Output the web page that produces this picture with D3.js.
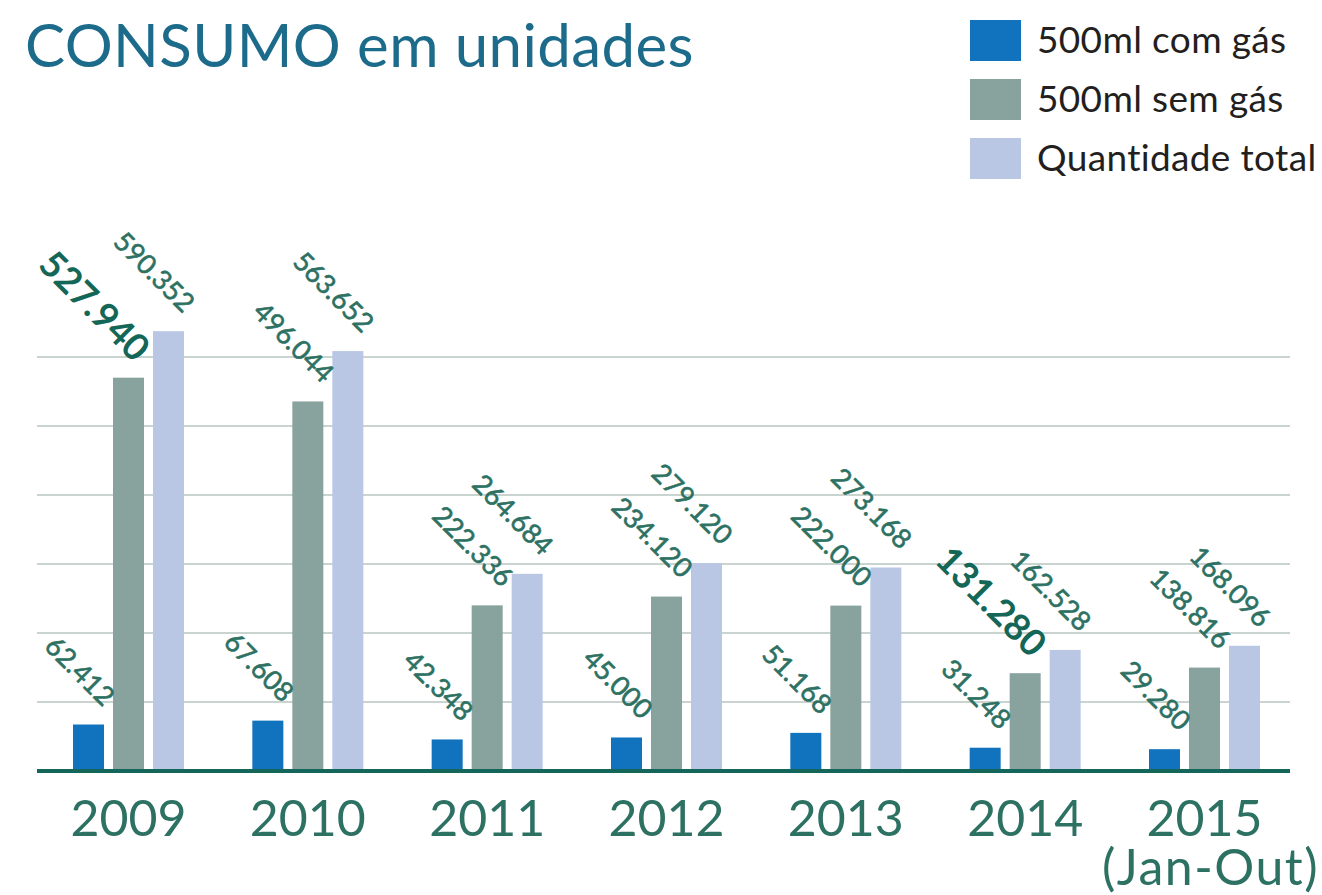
<!DOCTYPE html>
<html>
<head>
<meta charset="utf-8">
<script src="https://cdn.jsdelivr.net/npm/d3@7"></script>
<style>
  body { margin: 0; background: #fff; }
  svg { display: block; font-family: Lato, "Open Sans", sans-serif; }
</style>
</head>
<body>
<div id="chart"></div>
<script>
var years = ['2009', '2010', '2011', '2012', '2013', '2014', '2015'];
var yearNotes = ['', '', '', '', '', '', '(Jan-Out)'];
var seriesNames = ['500ml com gás', '500ml sem gás', 'Quantidade total'];
var comGas = [62412, 67608, 42348, 45000, 51168, 31248, 29280];
var semGas = [527940, 496044, 222336, 234120, 222000, 131280, 138816];
var total = [590352, 563652, 264684, 279120, 273168, 162528, 168096];
// labels shown bigger and bold (series index, year)
var highlighted = [[1, '2009'], [1, '2014']];
var gridStep = 92600;

var width = 1322, height = 895;
var colors = ['#1173bd', '#88a29d', '#b9c7e4'];
var baseY = 771;

var fmt = d3.formatLocale({ decimal: ',', thousands: '.', grouping: [3], currency: ['', ''] }).format(',d');

var rows = [];
years.forEach(function(y, i) {
    [comGas, semGas, total].forEach(function(arr, s) {
        rows.push({ year: y, s: s, value: arr[i] });
    });
});

var svg = d3.select('#chart').append('svg')
    .attr('width', width)
    .attr('height', height);

var x0 = d3.scaleBand()
    .domain(years)
    .range([40, 1293])
    .paddingInner(0.381)
    .paddingOuter(0.184);

var x1 = d3.scaleBand()
    .domain([0, 1, 2])
    .range([0, x0.bandwidth()])
    .paddingInner(0.225);

var yScale = d3.scaleLinear()
    .domain([0, 600000])
    .range([baseY, 324]);

// gridlines
var grid = d3.range(1, 7).map(function(i) { return i * gridStep; });
svg.append('g').selectAll('line').data(grid)
    .enter().append('line')
    .attr('x1', 37).attr('x2', 1290)
    .attr('y1', function(d) { return yScale(d); })
    .attr('y2', function(d) { return yScale(d); })
    .style('stroke', '#c9d4d1')
    .style('stroke-width', 2);

// bars
svg.append('g').selectAll('rect').data(rows)
    .enter().append('rect')
    .attr('x', function(d) { return x0(d.year) + x1(d.s); })
    .attr('width', x1.bandwidth())
    .attr('y', function(d) { return yScale(d.value); })
    .attr('height', function(d) { return baseY - yScale(d.value); })
    .style('fill', function(d) { return colors[d.s]; });

function isHigh(d) {
    return highlighted.some(function(h) { return h[0] === d.s && h[1] === d.year; });
}

// value labels
svg.append('g').selectAll('text').data(rows)
    .enter().append('text')
    .attr('transform', function(d) {
        var x = x0(d.year) + x1(d.s) + x1.bandwidth() - (isHigh(d) ? 10 : 1);
        var y = yScale(d.value) - (isHigh(d) ? 14 : 17);
        return 'translate(' + x + ',' + y + ') rotate(45)';
    })
    .attr('text-anchor', 'end')
    .style('font-size', function(d) { return isHigh(d) ? '37px' : '27px'; })
    .style('font-weight', function(d) { return isHigh(d) ? 700 : 400; })
    .style('fill', function(d) { return isHigh(d) ? '#146656' : '#2d7163'; })
    .style('stroke', function(d) { return isHigh(d) ? 'none' : '#2d7163'; })
    .style('stroke-width', 0.6)
    .text(function(d) { return fmt(d.value); });

// axis line
svg.append('line')
    .attr('x1', 37).attr('x2', 1290)
    .attr('y1', baseY).attr('y2', baseY)
    .style('stroke', '#14665a')
    .style('stroke-width', 4);

// year labels
var yearG = svg.append('g').selectAll('g').data(years)
    .enter().append('g')
    .attr('transform', function(d) {
        return 'translate(' + (x0(d) + x1(1) + x1.bandwidth() / 2) + ',0)';
    });
yearG.append('text')
    .attr('y', 836)
    .attr('text-anchor', 'middle')
    .style('font-size', '50px')
    .style('fill', '#2d7163')
    .text(function(d) { return d; });
yearG.append('text')
    .attr('x', 6)
    .attr('y', 885)
    .attr('text-anchor', 'middle')
    .style('font-size', '50px')
    .style('letter-spacing', '1.5px')
    .style('fill', '#2d7163')
    .text(function(d, i) { return yearNotes[i]; });

// title
svg.append('text')
    .attr('x', 25).attr('y', 67)
    .style('font-size', '60px')
    .style('letter-spacing', '0.4px')
    .style('fill', '#1d6b8b')
    .text('CONSUMO em unidades');

// legend
var legend = svg.append('g').selectAll('g').data(seriesNames)
    .enter().append('g')
    .attr('transform', function(d, i) { return 'translate(970,' + (20 + i * 59) + ')'; });
legend.append('rect')
    .attr('width', 51).attr('height', 41)
    .style('fill', function(d, i) { return colors[i]; });
legend.append('text')
    .attr('x', 67).attr('y', 33)
    .style('font-size', '37px')
    .style('letter-spacing', '0.35px')
    .style('fill', '#231f20')
    .text(function(d) { return d; });
</script>
</body>
</html>
